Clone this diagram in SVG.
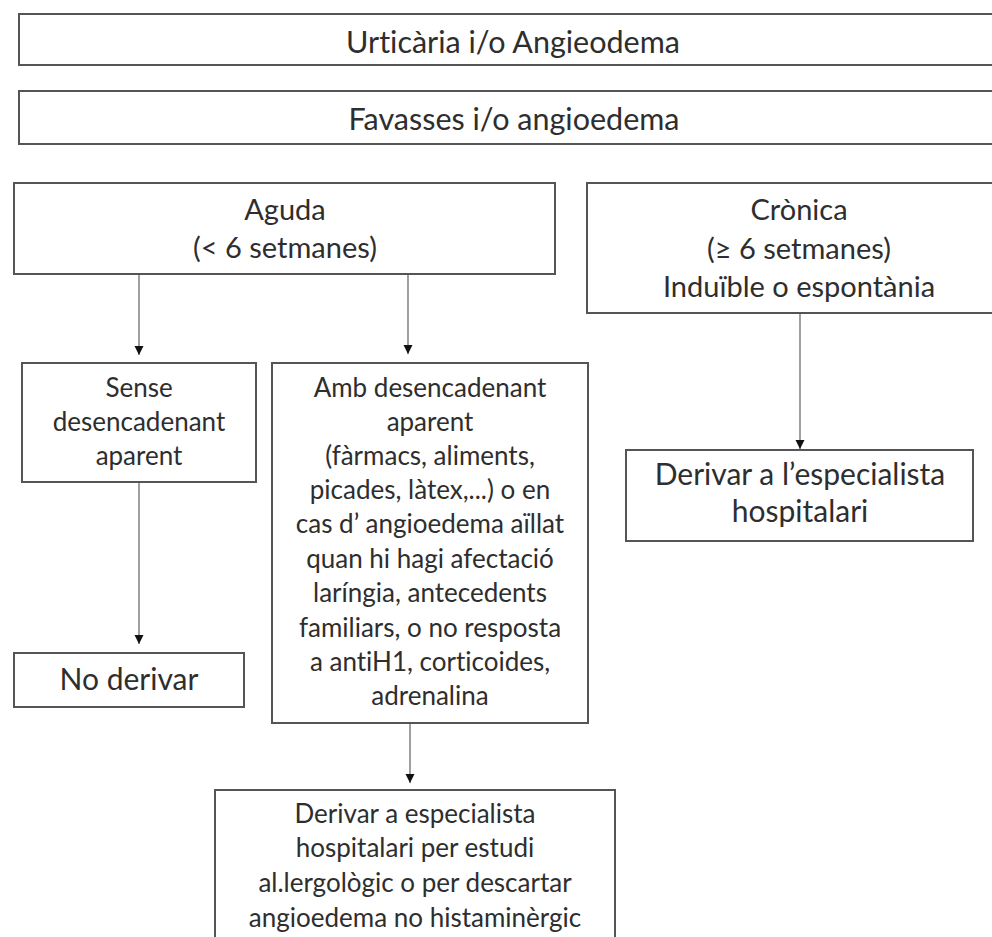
<svg xmlns="http://www.w3.org/2000/svg" width="992" height="937" viewBox="0 0 992 937">
<defs>
<style>
.box{fill:#fff;stroke:#555;stroke-width:2}
.t{font-family:Lato,"Open Sans","Liberation Sans",sans-serif;fill:#2e2e2e;text-anchor:middle;font-variant-ligatures:none}
.l{font-size:29px}
.xl{font-size:30.5px}
.m{font-size:26px}
.b{font-size:30px}
.c{stroke:#777;stroke-width:1.4;fill:none}
</style>
<marker id="ah" markerWidth="10" markerHeight="10" refX="9" refY="5" orient="auto" markerUnits="userSpaceOnUse">
<path d="M0,0.5 L9,5 L0,9.5 Z" fill="#111"/>
</marker>
</defs>
<rect width="992" height="937" fill="#fff"/>
<g id="n1"><rect class="box" x="19" y="14" width="992" height="51"/><text class="t xl" x="513" y="53">Urticària i/o Angieodema</text></g>
<g id="n2"><rect class="box" x="19" y="91" width="992" height="53"/><text class="t xl" x="514" y="130">Favasses i/o angioedema</text></g>
<g id="n3"><rect class="box" x="14" y="183" width="541" height="91"/><text class="t l" x="285" y="220">Aguda</text><text class="t l" x="285" y="258">(&lt; 6 setmanes)</text></g>
<g id="n4"><rect class="box" x="587" y="183" width="424" height="130"/><text class="t l" x="799" y="220">Crònica</text><text class="t l" x="799" y="259">(≥ 6 setmanes)</text><text class="t l" x="799" y="297">Induïble o espontània</text></g>
<g id="n5"><rect class="box" x="22" y="363" width="234" height="119"/><text class="t m" x="139" y="397">Sense</text><text class="t m" x="139" y="431">desencadenant</text><text class="t m" x="139" y="465">aparent</text></g>
<g id="n6"><rect class="box" x="272" y="363" width="316" height="360"/>
<text class="t m" x="430" y="397">Amb desencadenant</text>
<text class="t m" x="430" y="431">aparent</text>
<text class="t m" x="430" y="465">(fàrmacs, aliments,</text>
<text class="t m" x="430" y="499">picades, làtex,...) o en</text>
<text class="t m" x="430" y="533">cas d’ angioedema aïllat</text>
<text class="t m" x="430" y="568">quan hi hagi afectació</text>
<text class="t m" x="430" y="602">laríngia, antecedents</text>
<text class="t m" x="430" y="637">familiars, o no resposta</text>
<text class="t m" x="430" y="671">a antiH1, corticoides,</text>
<text class="t m" x="430" y="705">adrenalina</text></g>
<g id="n7"><rect class="box" x="626" y="450" width="347" height="91"/><text class="t b" x="800" y="485">Derivar a l’especialista</text><text class="t b" x="800" y="522">hospitalari</text></g>
<g id="n8"><rect class="box" x="14" y="653" width="230" height="54"/><text class="t b" x="129" y="690">No derivar</text></g>
<g id="n9"><rect class="box" x="215" y="790" width="400" height="160"/>
<text class="t m" x="415" y="823">Derivar a especialista</text>
<text class="t m" x="415" y="857">hospitalari per estudi</text>
<text class="t m" x="415" y="892">al.lergològic o per descartar</text>
<text class="t m" x="415" y="927">angioedema no histaminèrgic</text></g>
<g id="connectors">
<line class="c" x1="139" y1="275" x2="139" y2="355" marker-end="url(#ah)"/>
<line class="c" x1="408" y1="275" x2="408" y2="354" marker-end="url(#ah)"/>
<line class="c" x1="800" y1="314" x2="800" y2="449" marker-end="url(#ah)"/>
<line class="c" x1="139" y1="483" x2="139" y2="644" marker-end="url(#ah)"/>
<line class="c" x1="410" y1="724" x2="410" y2="783" marker-end="url(#ah)"/>
</g>
</svg>
